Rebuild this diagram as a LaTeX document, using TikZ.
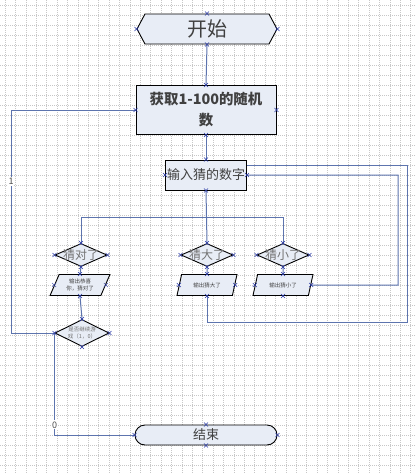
\documentclass[tikz,border=0pt]{standalone}
\usepackage{fontspec}
\newfontfamily\cjk{Noto Sans CJK SC}
\usetikzlibrary{shapes.geometric,shapes.symbols}
\definecolor{boxfill}{HTML}{E8EDF6}
\definecolor{linkblue}{HTML}{5D74AE}
\definecolor{markblue}{HTML}{2A3AA6}

\begin{document}
\begin{tikzpicture}[x=1pt,y=-1pt,
		every node/.style={font=\cjk, text=black!75},
		gridline/.style={black!22, line width=0.4pt, dash pattern=on 1pt off 1pt},
		box/.style={draw=black, line width=0.9pt, fill=boxfill, inner sep=1pt},
		startbox/.style={box, shape=signal, signal to=east and west, signal pointer angle=124,
			minimum width=140pt, minimum height=30pt, font=\cjk\fontsize{20}{22}\selectfont},
		procbox/.style={box, rectangle, align=center},
		testbox/.style={box, diamond, aspect=2.2, inner sep=-5pt, minimum width=52pt,
			minimum height=23pt, text=black!55, font=\cjk\fontsize{12}{13}\selectfont},
		iobox/.style={box, trapezium, trapezium left angle=64, trapezium right angle=116,
			trapezium stretches=true, minimum width=60pt, minimum height=21pt, inner sep=0pt,
			align=center, font=\cjk\fontsize{5.5}{7}\selectfont},
		endbox/.style={box, rectangle, rounded corners=10pt, minimum width=142pt, minimum height=20pt,
			font=\cjk\fontsize{13}{14}\selectfont},
		link/.style={draw=linkblue, line width=1pt},
		linklabel/.style={fill=white, inner sep=1pt, font=\cjk\fontsize{9}{10}\selectfont, text=black!70}
	]
	\useasboundingbox (0,0) rectangle (416,474);
	\fill[white] (0,0) rectangle (416,474);

	% background grid
	\foreach \gx in {0,...,39}
		\draw[gridline] (5+10.4*\gx,0) -- (5+10.4*\gx,474);
	\foreach \gy in {0,...,46}
		\draw[gridline] (0,5+10*\gy) -- (416,5+10*\gy);

	\node[startbox] (start) at (207,29) {开始};
	\node[procbox, minimum width=140pt, minimum height=49pt,
		font=\cjk\bfseries\fontsize{14.4}{21}\selectfont] (rand) at (206,110) {获取1-100的随机\\数};
	\node[procbox, minimum width=81pt, minimum height=30pt,
		font=\cjk\fontsize{13}{14}\selectfont] (input) at (206,175) {输入猜的数字};

	\node[testbox] (dok) at (81,255) {猜对了};
	\node[testbox] (dbig) at (207,255) {猜大了};
	\node[testbox] (dsmall) at (283,255) {猜小了};

	\node[iobox] (ook) at (80,285) {输出恭喜\\你，猜对了};
	\node[iobox] (obig) at (207,285) {输出猜大了};
	\node[iobox] (osmall) at (283,285) {输出猜小了};

	\node[testbox, minimum width=54pt, minimum height=27pt, inner sep=-4pt, align=center,
		font=\cjk\fontsize{5.5}{7}\selectfont] (cont) at (82,333) {是否继续游\\戏（1，0）};

	\node[endbox] (stop) at (206,435) {结束};

	\coordinate (jn) at (206,217);
	\coordinate (loopl) at (11,333);
	\coordinate (loopbig) at (407,322);
	\coordinate (loopsmall) at (398,285);

	\draw[link] (start.south) -- (rand.north);
	\draw[link] (rand.south) -- (input.north);
	\draw[link] (input.south) -- (dbig.north);
	\draw[link] (jn) -| (dok.north);
	\draw[link] (jn) -| (dsmall.north);

	\draw[link] (dok.south) -- (ook.north);
	\draw[link] (dbig.south) -- (obig.north);
	\draw[link] (dsmall.south) -- (osmall.north);
	\draw[link] (ook.south) -- (cont.north);

	\draw[link] (cont.west) -- (loopl) |- node[linklabel, pos=0.34] {1} (rand.west);
	\draw[link] (cont.west) |- node[linklabel, pos=0.45] {0} (stop.west);

	\draw[link] (obig.south) |- (loopbig) |- ([yshift=10pt]input.east);
	\draw[link] (osmall.east) -- (loopsmall) |- (input.east);

	% connection points
	\foreach \n in {start,rand,input,dok,dbig,dsmall,ook,obig,osmall,cont,stop}
		\foreach \a in {north,south,east,west} {
			\draw[markblue, line width=0.5pt] ([xshift=-2pt,yshift=-2pt]\n.\a) -- ([xshift=2pt,yshift=2pt]\n.\a);
			\draw[markblue, line width=0.5pt] ([xshift=-2pt,yshift=2pt]\n.\a) -- ([xshift=2pt,yshift=-2pt]\n.\a);
		}
\end{tikzpicture}
\end{document}
